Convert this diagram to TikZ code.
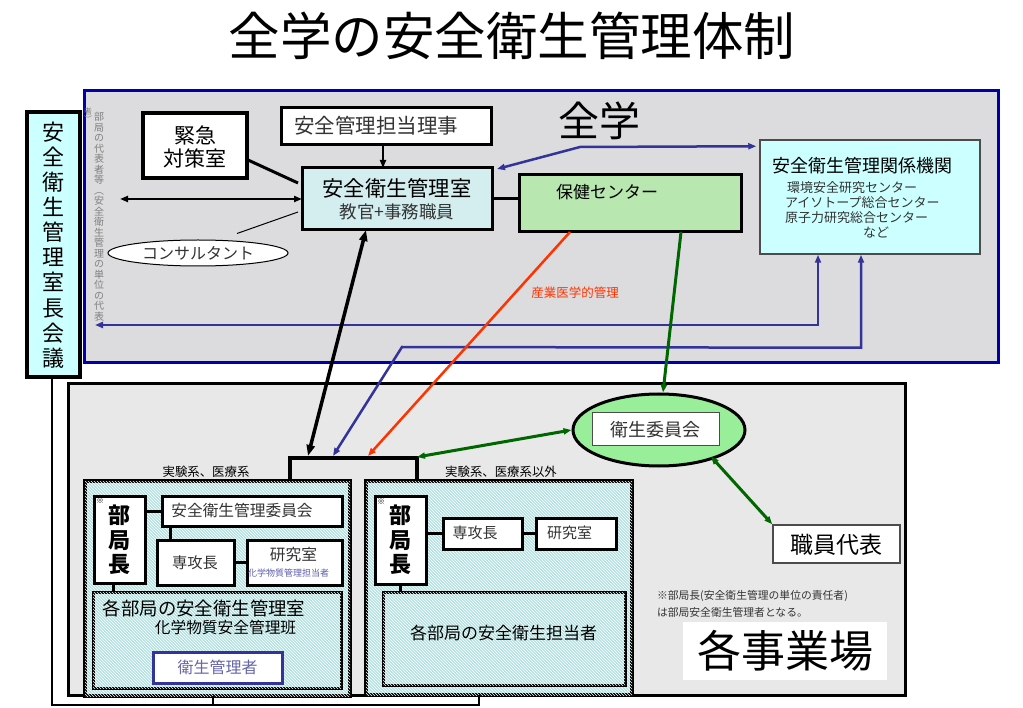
\documentclass[tikz,border=0pt]{standalone}
\usepackage{fontspec}
\setmainfont{Noto Sans CJK JP}
\usetikzlibrary{arrows.meta,shapes.geometric,patterns,calc}
\definecolor{zgray}{HTML}{DCDCDE}
\definecolor{jgray}{HTML}{E8E8E8}
\definecolor{zblue}{HTML}{0000AA}
\definecolor{acyan}{HTML}{CCFFFF}
\definecolor{kcyan}{HTML}{D4EEF0}
\definecolor{hgreen}{HTML}{B8E8B0}
\definecolor{egreen}{HTML}{99EE99}
\definecolor{lblue}{HTML}{333399}
\definecolor{lred}{HTML}{FF3300}
\definecolor{lgreen}{HTML}{006600}
\definecolor{hatchbg}{HTML}{B4E2E2}
\definecolor{txtgray}{HTML}{333333}
\newcommand\myfs[2]{\fontsize{#1}{#2}\selectfont}
\begin{document}
\begin{tikzpicture}[x=1pt,y=-1pt,
  bx/.style={draw, line width=3pt, fill=white, inner sep=0pt, outer sep=0pt},
  hatchbox/.style={draw, line width=4pt, fill=hatchbg, inner sep=0pt, outer sep=0pt,
     postaction={pattern=north west lines, pattern color=white}},
  txt/.style={inner sep=0pt, outer sep=0pt, text=txtgray},
  tipS/.style={-{Triangle[length=8pt,width=6pt]}},
  dtipS/.style={{Triangle[length=8pt,width=6pt]}-{Triangle[length=8pt,width=6pt]}},
  dtipL/.style={{Triangle[length=11pt,width=8pt]}-{Triangle[length=11pt,width=8pt]}},
  bluel/.style={draw=lblue, line width=2.5pt},
  greenl/.style={draw=lgreen, line width=3pt},
]
\useasboundingbox (0,0) rectangle (1023,708);
\fill[white] (0,0) rectangle (1023,708);

% title
\node[inner sep=0pt] (title) at (512,36) {\myfs{51.5}{51.5}全学の安全衛生管理体制};

% main frames
\node[draw=zblue, line width=3pt, fill=zgray, minimum width=914, minimum height=272, inner sep=0pt] (zengaku) at (541,227) {};
\node[draw, line width=3pt, fill=jgray, minimum width=837, minimum height=311, inner sep=0pt] (jigyo) at (486.5,539.5) {};

% kaigi
\node[draw, line width=4pt, fill=acyan, minimum width=53, minimum height=265, inner sep=0pt] (kaigi) at (53.5,244.5) {};
\node[txt, text=black, align=center, font=\myfs{22}{25.1}] (kaigitext) at (53.5,245) {安\\全\\衛\\生\\管\\理\\室\\長\\会\\議};

% vertical small text
\node[txt, text=gray, align=center, anchor=north, font=\myfs{10}{10.5}] (vtext) at (99,112.5) {部\\局\\の\\代\\表\\者\\等\\︵\\安\\全\\衛\\生\\管\\理\\の\\単\\位\\の\\代\\表};
\node[txt, text=gray, align=center, anchor=north, font=\myfs{8}{8}] (vtext2) at (88,108) {者\\︶};

% upper nodes
\node[bx, line width=4pt, minimum width=104, minimum height=65] (kinkyu) at (195,145.5) {};
\node[txt, text=black, align=center, font=\myfs{21}{23.5}] (kinkyutext) at (195,147) {緊急\\対策室};

\node[bx, minimum width=210, minimum height=37] (riji) at (386,126.5) {};
\node[txt] (rijitext) at (376,126) {\myfs{20.5}{20.5}安全管理担当理事};

\node[bx, fill=kcyan, minimum width=190, minimum height=62] (kanri) at (397,199) {};
\node[txt, text=black] (kanrit1) at (397,188) {\myfs{21.3}{21.3}安全衛生管理室};
\node[txt] (kanrit2) at (397,212) {\myfs{17.5}{17.5}教官+事務職員};

\node[bx, fill=hgreen, minimum width=222, minimum height=57] (hoken) at (630,203.5) {};
\node[txt, text=black] (hokentext) at (607,192) {\myfs{17}{17}保健センター};

\node[txt, text=black] (zenlabel) at (599,121) {\myfs{41}{41}全学};

\node[draw=black!70, line width=1.5pt, fill=acyan, minimum width=220, minimum height=114, inner sep=0pt] (kankei) at (870,197) {};
\node[txt, text=black] (kankeit) at (862,166) {\myfs{18}{18}安全衛生管理関係機関};
\node[txt, anchor=west] (kk1) at (787,188) {\myfs{13}{13}環境安全研究センター};
\node[txt, anchor=west] (kk2) at (785,203) {\myfs{13}{13}アイソトープ総合センター};
\node[txt, anchor=west] (kk3) at (785,218) {\myfs{13}{13}原子力研究総合センター};
\node[txt, anchor=west] (kk4) at (863,233) {\myfs{13}{13}など};

\node[ellipse, draw, line width=1pt, fill=white, minimum width=180, minimum height=26, inner sep=0pt] (consult) at (198,253) {};
\node[txt] (consulttext) at (198,253) {\myfs{16}{16}コンサルタント};

% upper connectors
\draw[line width=3pt] ($(kinkyu.east)+(1,14.5)$) -- ($(kanri.west)+(-4,-16)$);
\coordinate (lfree) at (120,199);
\draw[line width=2.5pt, dtipS] (lfree) -- (kanri.west);
\draw[line width=1pt] ($(consult.north)+(39,-6)$) -- ($(kanri.west)+(-4,13)$);
\draw[line width=2pt, tipS] ($(riji.south)+(-3,0)$) -- ($(kanri.north)+(-14,0)$);
\draw[line width=3pt] (kanri.east) -- (kanri.east -| hoken.west);

\coordinate (bbend) at (580,147);
\draw[bluel, dtipS] ($(kankei.north west)+(-3,7)$) -- (bbend) -- ($(kanri.north east)+(5,1)$);
\coordinate (lt) at (95,325);
\draw[bluel, dtipS] ($(kankei.south)+(-52,0)$) |- (lt);

% lower frame boxes
\node[hatchbox, minimum width=265, minimum height=215] (lbox) at (217.5,588.5) {};
\node[hatchbox, minimum width=266, minimum height=214] (rbox) at (499,588) {};
\node[txt, text=black] (llabel) at (206,472) {\myfs{12.4}{12.4}実験系、医療系};
\node[txt, text=black] (rlabel) at (501,472) {\myfs{12.4}{12.4}実験系、医療系以外};

% bracket on top
\coordinate (k1) at (290,458);
\coordinate (k2) at (417,458);
\draw[line width=4pt] (k1 |- lbox.north) -- (k1) -- (k2) -- (k2 |- rbox.north);

% bracket below
\coordinate (bl) at (52,705);
\coordinate (br) at (479,705);
\draw[line width=2pt] (kaigi.south -| bl) -- (bl) -- (br) -- (br |- rbox.south);
\draw[line width=2pt] ([xshift=-4.5pt]lbox.south) -- ([xshift=-4.5pt]lbox.south |- bl);

% left box contents
\node[bx, minimum width=51, minimum height=87] (Lbu) at (119.5,539.5) {};
\node[txt, text=black, align=center, font=\myfs{22}{24.5}\bfseries] (Lbut) at (119.5,540) {部\\局\\長};
\node[txt, text=black] (Lmark) at (100,501) {\myfs{8}{8}※};
\node[bx, minimum width=180, minimum height=30] (Liin) at (252,511) {};
\node[txt] (Liint) at (242,511) {\myfs{15.7}{15.7}安全衛生管理委員会};
\node[bx, minimum width=77, minimum height=45] (Lsen) at (195.5,562.5) {};
\node[txt] (Lsent) at (195,563) {\myfs{15.3}{15.3}専攻長};
\node[bx, minimum width=95, minimum height=45] (Lken) at (294.5,562.5) {};
\node[txt] (Lkent) at (293.5,555) {\myfs{15.7}{15.7}研究室};
\node[txt, text=lblue!80] (Lkent2) at (288.5,573) {\myfs{9}{9}化学物質管理担当者};
\node[hatchbox, line width=3pt, minimum width=248, minimum height=96] (Lkan) at (217,640) {};
\node[txt, text=black] (Lkant1) at (204,608) {\myfs{18.4}{18.4}各部局の安全衛生管理室};
\node[txt, text=black] (Lkant2) at (225.5,628) {\myfs{15.7}{15.7}化学物質安全管理班};
\node[bx, draw=lblue, minimum width=129, minimum height=31] (Leisei) at (217.5,667.5) {};
\node[txt, text={rgb,255:red,102;green,102;blue,170}] (Leiseit) at (217.5,667.5) {\myfs{16}{16}衛生管理者};

\draw[line width=3pt] (Lbu.east |- Liin.west) -- (Liin.west);
\coordinate (c1) at ($(Liin.south west)+(8,0)$);
\draw[line width=3pt] (c1) -- (c1 |- Lsen.north);
\draw[line width=3pt] (Lsen.east) -- (Lken.west);
\coordinate (c2) at ($(Lbu.south)+(-6.5,0)$);
\draw[line width=3pt] (c2) -- (c2 |- Lkan.north);

% right box contents
\node[bx, minimum width=51, minimum height=88] (Rbu) at (400.5,540) {};
\node[txt, text=black, align=center, font=\myfs{22}{24.5}\bfseries] (Rbut) at (400.5,540) {部\\局\\長};
\node[txt, text=black] (Rmark) at (381,502) {\myfs{8}{8}※};
\node[bx, minimum width=79, minimum height=31] (Rsen) at (482.5,533.5) {};
\node[txt] (Rsent) at (475,533) {\myfs{15}{15}専攻長};
\node[bx, minimum width=80, minimum height=31] (Rken) at (576,533.5) {};
\node[txt] (Rkent) at (569.5,533) {\myfs{15}{15}研究室};
\node[hatchbox, line width=3pt, minimum width=242, minimum height=93] (Rtan) at (504,638.5) {};
\node[txt, text=black] (Rtant) at (503.5,633) {\myfs{17}{17}各部局の安全衛生担当者};

\draw[line width=3pt] (Rbu.east |- Rsen.west) -- (Rsen.west);
\draw[line width=3pt] (Rsen.east) -- (Rken.west);
\draw[line width=3pt] (Rbu.south) -- (Rbu.south |- Rtan.north);

% eisei iinkai
\node[ellipse, draw, line width=3pt, fill=egreen, minimum width=172, minimum height=72, inner sep=0pt] (eisei) at (659,430) {};
\node[draw=black!70, line width=1pt, fill=white, minimum width=127, minimum height=33, inner sep=0pt] (eiseibox) at (655.5,429.5) {};
\node[txt] (eiseit) at (655.5,430) {\myfs{18}{18}衛生委員会};

\node[draw=black!70, line width=1.5pt, fill=white, minimum width=127, minimum height=38, inner sep=0pt] (shokuin) at (836.5,544) {};
\node[txt, text=black] (shokuint) at (836.5,545) {\myfs{23}{23}職員代表};

\node[txt, anchor=west, align=left, font=\myfs{10.8}{17}] (note) at (657,603.5) {※部局長(安全衛生管理の単位の責任者)\\は部局安全衛生管理者となる。};

\node[fill=white, minimum width=204, minimum height=58, inner sep=0pt] (kakubox) at (785,651) {};
\node[txt, text=black] (kakut) at (785,651) {\myfs{44}{44}各事業場};

% long connectors
\draw[bluel, dtipS] ($(kankei.south)+(-9,0)$) -- ++(0,93) -- (402,347) -- ($(k1)+(43,-2)$);
\draw[line width=3.5pt, dtipL] ($(kanri.south)+(-31,0)$) -- ($(k1)+(18,-2)$);
\draw[draw=lred, line width=2.5pt, tipS] ($(hoken.south)+(-60,0)$) -- ($(k1)+(78,-2)$);
\node[txt, text=lred] (sangyo) at (575,293) {\myfs{12.5}{12.5}産業医学的管理};
\draw[greenl, tipS] ($(hoken.south)+(51,0)$) -- ($(eisei.north)+(4,0)$);
\draw[greenl, dtipS] ($(k2)+(0,-1)$) -- (eisei.west);
\draw[greenl, dtipS] ($(eisei.south east)+(-10,0)$) -- (shokuin.north west);

\end{tikzpicture}
\end{document}
